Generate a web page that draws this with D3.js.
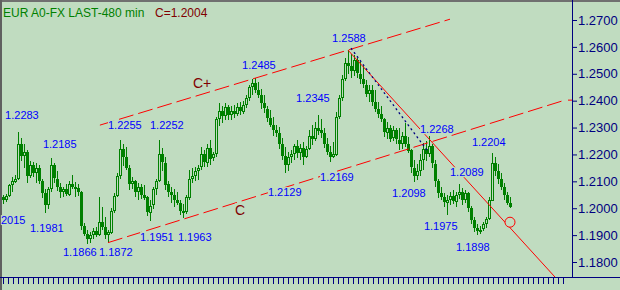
<!DOCTYPE html>
<html>
<head>
<meta charset="utf-8">
<script src="https://cdn.jsdelivr.net/npm/d3@7"></script>
<style>
  html, body { margin: 0; padding: 0; background: #c0dcc0; }
  svg { display: block; }
  text { font-family: Arial, "Liberation Sans", sans-serif; }
</style>
</head>
<body>
<svg id="chart" width="620" height="290"></svg>
<script>
// 480 min EUR bars: [open, high, low, close]
const bars = [
  [1.2040,1.2049,1.2015,1.2030],[1.2030,1.2052,1.2022,1.2045],[1.2045,1.2090,1.2040,1.2085],
  [1.2085,1.2115,1.2060,1.2100],[1.2100,1.2123,1.2093,1.2110],[1.2110,1.2283,1.2105,1.2240],
  [1.2240,1.2262,1.2175,1.2195],[1.2195,1.2240,1.2150,1.2210],[1.2210,1.2215,1.2093,1.2120],
  [1.2120,1.2175,1.2110,1.2160],[1.2160,1.2172,1.2116,1.2130],[1.2130,1.2168,1.2095,1.2150],
  [1.2150,1.2160,1.2090,1.2100],[1.2100,1.2110,1.2040,1.2055],[1.2055,1.2070,1.1981,1.2010],
  [1.2010,1.2080,1.2000,1.2070],[1.2070,1.2185,1.2060,1.2160],[1.2160,1.2170,1.2095,1.2110],
  [1.2110,1.2140,1.2065,1.2080],[1.2080,1.2095,1.2040,1.2060],[1.2060,1.2078,1.2041,1.2070],
  [1.2070,1.2090,1.2045,1.2050],[1.2050,1.2100,1.2045,1.2090],[1.2090,1.2123,1.2070,1.2080],
  [1.2080,1.2097,1.2041,1.2075],[1.2075,1.2090,1.2045,1.2060],[1.2060,1.2065,1.1920,1.1935],
  [1.1935,1.1945,1.1895,1.1905],[1.1905,1.1918,1.1866,1.1885],[1.1885,1.1910,1.1870,1.1900],
  [1.1900,1.1925,1.1885,1.1915],[1.1915,1.1930,1.1892,1.1900],[1.1900,1.2041,1.1895,1.1950],
  [1.1950,1.2004,1.1918,1.1930],[1.1930,1.1967,1.1885,1.1900],[1.1900,1.1920,1.1872,1.1910],
  [1.1910,1.2000,1.1905,1.1990],[1.1990,1.2056,1.1982,1.2045],[1.2045,1.2130,1.2040,1.2120],
  [1.2120,1.2255,1.2110,1.2220],[1.2220,1.2240,1.2160,1.2190],[1.2190,1.2227,1.2142,1.2150],
  [1.2150,1.2160,1.2067,1.2090],[1.2090,1.2116,1.2070,1.2100],[1.2100,1.2105,1.2040,1.2060],
  [1.2060,1.2093,1.2030,1.2080],[1.2080,1.2090,1.2035,1.2050],[1.2050,1.2085,1.2030,1.2040],
  [1.2040,1.2045,1.1970,1.1985],[1.1985,1.2030,1.1951,1.2010],[1.2010,1.2080,1.2000,1.2070],
  [1.2070,1.2110,1.2050,1.2100],[1.2100,1.2252,1.2095,1.2200],[1.2200,1.2225,1.2140,1.2170],
  [1.2170,1.2190,1.2067,1.2090],[1.2090,1.2100,1.2040,1.2060],[1.2060,1.2078,1.2020,1.2050],
  [1.2050,1.2070,1.2004,1.2030],[1.2030,1.2060,1.2010,1.2020],[1.2020,1.2030,1.1975,1.1990],
  [1.1990,1.2015,1.1963,1.1985],[1.1985,1.2050,1.1980,1.2040],[1.2040,1.2142,1.2030,1.2110],
  [1.2110,1.2150,1.2093,1.2120],[1.2120,1.2153,1.2100,1.2140],[1.2140,1.2160,1.2105,1.2150],
  [1.2150,1.2227,1.2142,1.2200],[1.2200,1.2215,1.2150,1.2170],[1.2170,1.2240,1.2155,1.2225],
  [1.2225,1.2253,1.2160,1.2185],[1.2185,1.2210,1.2175,1.2200],[1.2200,1.2340,1.2190,1.2330],
  [1.2330,1.2391,1.2305,1.2360],[1.2360,1.2380,1.2315,1.2340],[1.2340,1.2391,1.2328,1.2375],
  [1.2375,1.2385,1.2330,1.2345],[1.2345,1.2380,1.2328,1.2360],[1.2360,1.2385,1.2335,1.2350],
  [1.2350,1.2390,1.2340,1.2375],[1.2375,1.2395,1.2345,1.2360],[1.2360,1.2400,1.2350,1.2385],
  [1.2385,1.2420,1.2370,1.2410],[1.2410,1.2460,1.2400,1.2450],[1.2450,1.2480,1.2420,1.2465],
  [1.2465,1.2485,1.2430,1.2440],[1.2440,1.2470,1.2410,1.2420],[1.2420,1.2445,1.2370,1.2390],
  [1.2390,1.2420,1.2354,1.2370],[1.2370,1.2380,1.2320,1.2335],[1.2335,1.2365,1.2300,1.2310],
  [1.2310,1.2340,1.2270,1.2290],[1.2290,1.2310,1.2264,1.2280],[1.2280,1.2302,1.2220,1.2240],
  [1.2240,1.2260,1.2179,1.2195],[1.2195,1.2227,1.2129,1.2160],[1.2160,1.2210,1.2140,1.2190],
  [1.2190,1.2216,1.2168,1.2200],[1.2200,1.2240,1.2180,1.2230],[1.2230,1.2253,1.2185,1.2205],
  [1.2205,1.2240,1.2180,1.2225],[1.2225,1.2246,1.2160,1.2190],[1.2190,1.2230,1.2186,1.2220],
  [1.2220,1.2290,1.2215,1.2270],[1.2270,1.2309,1.2235,1.2260],[1.2260,1.2320,1.2250,1.2300],
  [1.2300,1.2345,1.2270,1.2290],[1.2290,1.2330,1.2261,1.2280],[1.2280,1.2298,1.2223,1.2240],
  [1.2240,1.2260,1.2195,1.2210],[1.2210,1.2230,1.2169,1.2190],[1.2190,1.2246,1.2186,1.2200],
  [1.2200,1.2357,1.2195,1.2340],[1.2340,1.2420,1.2330,1.2410],[1.2410,1.2495,1.2400,1.2480],
  [1.2480,1.2560,1.2475,1.2540],[1.2540,1.2588,1.2500,1.2530],[1.2530,1.2575,1.2484,1.2510],
  [1.2510,1.2569,1.2490,1.2550],[1.2550,1.2560,1.2484,1.2500],[1.2500,1.2543,1.2460,1.2480],
  [1.2480,1.2530,1.2447,1.2460],[1.2460,1.2475,1.2410,1.2425],[1.2425,1.2458,1.2395,1.2440],
  [1.2440,1.2458,1.2380,1.2395],[1.2395,1.2440,1.2357,1.2370],[1.2370,1.2395,1.2335,1.2350],
  [1.2350,1.2380,1.2320,1.2330],[1.2330,1.2335,1.2265,1.2280],[1.2280,1.2320,1.2255,1.2300],
  [1.2300,1.2310,1.2246,1.2260],[1.2260,1.2305,1.2250,1.2290],[1.2290,1.2300,1.2240,1.2255],
  [1.2255,1.2298,1.2216,1.2240],[1.2240,1.2285,1.2220,1.2270],[1.2270,1.2316,1.2225,1.2240],
  [1.2240,1.2264,1.2205,1.2215],[1.2215,1.2220,1.2130,1.2150],[1.2150,1.2179,1.2098,1.2120],
  [1.2120,1.2165,1.2104,1.2140],[1.2140,1.2200,1.2120,1.2180],[1.2180,1.2242,1.2142,1.2220],
  [1.2220,1.2250,1.2175,1.2200],[1.2200,1.2268,1.2190,1.2230],[1.2230,1.2240,1.2150,1.2165],
  [1.2165,1.2180,1.2078,1.2100],[1.2100,1.2110,1.2040,1.2055],[1.2055,1.2078,1.2030,1.2040],
  [1.2040,1.2056,1.2004,1.2020],[1.2020,1.2050,1.1975,1.2030],[1.2030,1.2060,1.2010,1.2045],
  [1.2045,1.2067,1.2015,1.2025],[1.2025,1.2060,1.2004,1.2050],[1.2050,1.2089,1.2035,1.2060],
  [1.2060,1.2075,1.2010,1.2030],[1.2030,1.2067,1.2020,1.2055],[1.2055,1.2060,1.1985,1.2000],
  [1.2000,1.2010,1.1944,1.1955],[1.1955,1.1967,1.1910,1.1925],[1.1925,1.1940,1.1898,1.1915],
  [1.1915,1.1935,1.1905,1.1920],[1.1920,1.1950,1.1915,1.1940],[1.1940,1.1967,1.1925,1.1960],
  [1.1960,1.2040,1.1955,1.2030],[1.2030,1.2204,1.2025,1.2170],[1.2170,1.2190,1.2120,1.2140],
  [1.2140,1.2165,1.2090,1.2110],[1.2110,1.2130,1.2067,1.2080],[1.2080,1.2093,1.2030,1.2050],
  [1.2050,1.2060,1.2010,1.2020],[1.2020,1.2041,1.2000,1.2004]
];

const priceTicks = [1.18, 1.19, 1.20, 1.21, 1.22, 1.23, 1.24, 1.25, 1.26, 1.27];
const lastClose = 1.2004;

// swing labels: [text, bar index, price]  (anchor in chart units)
const swingLabels = [
  ["1.2283", 0.7, 1.2331], ["1.2185", 13.3, 1.2223], ["2015", -0.7, 1.1941],
  ["1.1981", 9, 1.1911], ["1.1866", 20, 1.1822], ["1.1872", 32, 1.1822],
  ["1.2255", 35, 1.2294], ["1.2252", 49, 1.2294], ["1.1951", 45.7, 1.1878],
  ["1.1963", 58.3, 1.1878], ["1.2485", 79.7, 1.2517], ["1.2345", 97.7, 1.2395],
  ["1.2169", 105.7, 1.2101], ["1.2129", 88.3, 1.2045], ["1.2588", 109.7, 1.2618],
  ["1.2268", 139, 1.2279], ["1.2204", 156.3, 1.2231], ["1.2089", 149, 1.2119],
  ["1.2098", 129.7, 1.2041], ["1.1975", 140.3, 1.1918], ["1.1898", 151, 1.1840]
];
const waveMarks = [["C+", 63.3, 1.2447], ["C", 77.3, 1.1974]];

// trend lines: [bar index, price]
const channelTop = [[32.3, 1.2309], [149, 1.2703]];
const channelBottom = [[35, 1.1872], [187.3, 1.2402]];
const fallLine = [[115, 1.2588], [184, 1.1744]];
const fastLine = [[116, 1.2595], [141.3, 1.2216]];
const targetPoint = [169, 1.1948];

const W = 620, H = 290;
const bg = "#c0dcc0";
const axisColor = "#000080";
const candleColor = "#008000";

const x = d3.scaleLinear().domain([0, bars.length - 1]).range([3, 510]);
const y = d3.scaleLinear().domain([1.18, 1.27]).range([262, 20]);

const svg = d3.select("#chart");
svg.append("rect").attr("width", W).attr("height", H).attr("fill", bg);

// frame
svg.append("rect").attr("x", 0).attr("y", 0).attr("width", W).attr("height", 2).attr("fill", "#707070");
svg.append("rect").attr("x", 0).attr("y", 0).attr("width", 2).attr("height", H).attr("fill", "#606060");

// candles: wick, then body (hollow when up, solid when down)
const cg = svg.append("g").attr("shape-rendering", "crispEdges");
cg.selectAll("rect.wick").data(bars).join("rect")
  .attr("class", "wick")
  .attr("x", (d, i) => Math.round(x(i)))
  .attr("y", d => Math.round(y(d[1])))
  .attr("width", 1)
  .attr("height", d => Math.round(y(d[2]) - y(d[1])))
  .attr("fill", candleColor);
cg.selectAll("rect.body").data(bars).join("rect")
  .attr("class", "body")
  .attr("x", (d, i) => Math.round(x(i)) - 0.5)
  .attr("y", d => Math.round(y(Math.max(d[0], d[3]))) + 0.5)
  .attr("width", 2)
  .attr("height", d => Math.max(1, Math.round(Math.abs(y(d[0]) - y(d[3]))) - 1))
  .attr("fill", d => d[3] > d[0] ? bg : candleColor)
  .attr("stroke", candleColor);

// trend lines
const line = d3.line().x(d => x(d[0])).y(d => y(d[1]));
svg.append("path").datum(channelTop).attr("d", line)
  .attr("stroke", "#ff0000").attr("fill", "none").attr("stroke-dasharray", "15,5");
svg.append("path").datum(channelBottom).attr("d", line)
  .attr("stroke", "#ff0000").attr("fill", "none").attr("stroke-dasharray", "15,5");
svg.append("path").datum(fallLine).attr("d", line)
  .attr("stroke", "#ff0000").attr("fill", "none");
svg.append("path").datum(fastLine).attr("d", line)
  .attr("stroke", "#000080").attr("stroke-width", 1.3).attr("fill", "none")
  .attr("stroke-dasharray", "2,3");

// labels with background boxes that hide the lines behind them
function label(g, t, bx, p, color, size) {
  const grp = g.append("g");
  const txt = grp.append("text")
    .attr("x", x(bx)).attr("y", y(p))
    .attr("fill", color).attr("font-size", size)
    .text(t);
  const b = txt.node().getBBox();
  grp.insert("rect", "text")
    .attr("x", b.x).attr("y", b.y + 1)
    .attr("width", b.width).attr("height", b.height - 2)
    .attr("fill", bg);
}
const lg = svg.append("g");
swingLabels.forEach(d => label(lg, d[0], d[1], d[2], "#0000ff", 11));
waveMarks.forEach(d => label(lg, d[0], d[1], d[2], "#800000", 14));

// target circle
svg.append("circle")
  .attr("cx", x(targetPoint[0])).attr("cy", y(targetPoint[1])).attr("r", 5)
  .attr("fill", bg).attr("stroke", "#ff0000");

// right price axis
const ay = svg.append("g")
  .attr("transform", "translate(572,0)")
  .call(d3.axisRight(y).tickValues(priceTicks).tickFormat(d3.format(".4f")).tickSize(5).tickPadding(1));
ay.select(".domain").remove();
ay.attr("font-family", null).attr("font-size", null);
ay.selectAll("line").attr("stroke", axisColor);
ay.selectAll("text").attr("fill", axisColor).attr("font-size", 13);

// bottom time ticks
const timeTicks = d3.range(0, 188.2, 5 / 3);
const ax = svg.append("g")
  .attr("transform", "translate(0,277)")
  .call(d3.axisBottom(x).tickValues(timeTicks).tickFormat("").tickSize(7));
ax.select(".domain").remove();
ax.selectAll("line").attr("stroke", axisColor).attr("shape-rendering", "crispEdges");

svg.append("line").attr("x1", 0).attr("x2", W).attr("y1", 277.5).attr("y2", 277.5)
  .attr("stroke", axisColor);
svg.append("line").attr("x1", 572.5).attr("x2", 572.5).attr("y1", 0).attr("y2", 277)
  .attr("stroke", axisColor);

// price marker of channel end on axis
svg.append("line")
  .attr("x1", 568).attr("x2", 572)
  .attr("y1", y(channelBottom[1][1])).attr("y2", y(channelBottom[1][1]))
  .attr("stroke", "#ff0000");

// title
const title = svg.append("text").attr("x", 3).attr("y", 17).attr("font-size", 12);
title.append("tspan").attr("fill", "#008000").text("EUR A0-FX LAST-480 min");
title.append("tspan").attr("fill", "#800000").attr("x", 155).text("C=" + lastClose.toFixed(4));
</script>
</body>
</html>
